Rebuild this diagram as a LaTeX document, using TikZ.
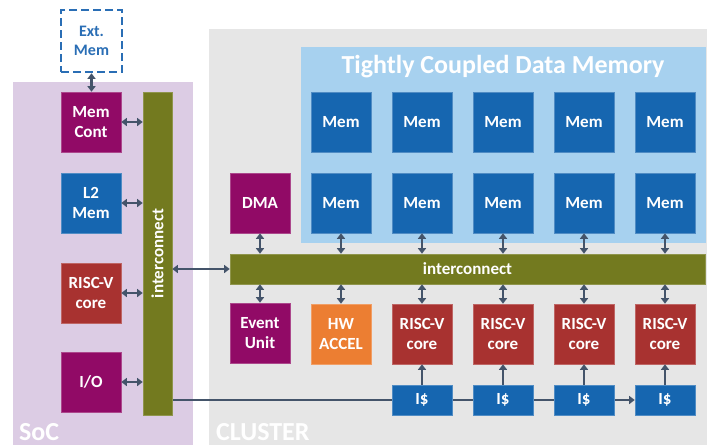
\documentclass[tikz,border=0pt]{standalone}
\usepackage{fontspec}
\setmainfont{Carlito}
\usetikzlibrary{arrows.meta}
\definecolor{socbg}{HTML}{DCCCE4}
\definecolor{clbg}{HTML}{E6E6E6}
\definecolor{tcdmbg}{HTML}{A7D1EF}
\definecolor{memblue}{HTML}{1666B0}
\definecolor{magen}{HTML}{910A66}
\definecolor{corered}{HTML}{A83230}
\definecolor{accel}{HTML}{EC7E32}
\definecolor{olive}{HTML}{737A1F}
\definecolor{wire}{HTML}{44546A}
\definecolor{extblue}{HTML}{2A6EB5}
\pgfdeclarelayer{panel}
\pgfdeclarelayer{wirelayer}
\pgfsetlayers{panel,wirelayer,main}
\tikzset{
  blk/.style={rectangle, inner sep=0pt, minimum width=60pt, minimum height=60pt,
    text=white, align=center, font=\fontsize{17}{20}\selectfont\bfseries,
    fill=#1, draw=#1!75!white, line width=0.6pt},
  cache/.style={blk=memblue, minimum height=30pt},
  bus/.style={rectangle, inner sep=0pt, fill=olive, draw=olive!80!white, line width=0.6pt,
    text=white, font=\fontsize{17}{20}\selectfont\bfseries},
  dbl/.style={wire, line width=2.3pt, {Triangle[width=8pt,length=5.5pt]}-{Triangle[width=8pt,length=5.5pt]}},
  one/.style={wire, line width=2.3pt, -{Triangle[width=8pt,length=5.5pt]}},
  paneltitle/.style={text=white, font=\fontsize{26}{28}\selectfont\bfseries, inner sep=0pt, anchor=base west}
}
\begin{document}
\begin{tikzpicture}[x=1pt, y=-1pt]
\useasboundingbox (0,0) rectangle (707,445);

% background panels
\begin{pgfonlayer}{panel}
  \fill[socbg] (13,82) rectangle (193,445);
  \fill[clbg] (209,29) rectangle (707,445);
  \fill[tcdmbg] (301,47) rectangle (706,243);
\end{pgfonlayer}
\node[paneltitle] (soclbl) at (19,440) {SoC};
\node[paneltitle] (cllbl) at (216,440) {CLUSTER};
\node[text=white, font=\fontsize{26}{28}\selectfont\bfseries, inner sep=0pt] (tcdmlbl) at (503,67) {Tightly Coupled Data Memory};

% external memory
\node[rectangle, minimum width=61pt, minimum height=62pt, inner sep=0pt, draw=extblue,
  line width=2.6pt, dash pattern=on 8pt off 4pt, fill=white, text=extblue, align=center,
  font=\fontsize{16}{19}\selectfont\bfseries] (ext) at (91.5,41) {Ext.\\Mem};

% SoC blocks
\node[blk=magen] (mc) at (91,122) {Mem\\Cont};
\node[blk=memblue] (l2) at (91,203) {L2\\Mem};
\node[blk=corered] (soccore) at (91,293) {RISC-V\\core};
\node[blk=magen] (io) at (91,382) {I/O};
\node[bus, minimum width=29pt, minimum height=323pt] (socic) at (157.5,253.5) {};
\node[text=white, font=\fontsize{17}{20}\selectfont\bfseries, rotate=90, inner sep=0pt] (socictxt) at (socic.center) {interconnect};

% cluster interconnect
\node[bus, minimum width=475pt, minimum height=30pt] (clic) at (467.5,269) {interconnect};

% TCDM banks
\foreach \i/\x in {1/341,2/422,3/503,4/584,5/665} {
  \node[blk=memblue] (ma\i) at (\x,122) {Mem};
  \node[blk=memblue] (mb\i) at (\x,203) {Mem};
  \draw[dbl] (mb\i.south) -- (mb\i.south |- clic.north);
}
\node[blk=magen] (dma) at (260,203) {DMA};
\draw[dbl] (dma.south) -- (dma.south |- clic.north);

% lower cluster row
\node[blk=magen] (ev) at (260,333) {Event\\Unit};
\node[blk=accel] (hw) at (341,334) {HW\\ACCEL};
\draw[dbl] (ev.north) -- (ev.north |- clic.south);
\draw[dbl] (hw.north) -- (hw.north |- clic.south);
\foreach \i/\x in {1/422,2/503,3/584,4/665} {
  \node[blk=corered] (core\i) at (\x,334) {RISC-V\\core};
  \node[cache] (ic\i) at (\x,400) {I\$};
  \draw[dbl] (core\i.north) -- (core\i.north |- clic.south);
  \draw[one] (ic\i.north) -- (core\i.south);
}

% SoC links
\draw[dbl] (ext.south) -- (ext.south |- mc.north);
\draw[dbl] (mc.east) -- (mc.east -| socic.west);
\draw[dbl] (l2.east) -- (l2.east -| socic.west);
\draw[dbl] (soccore.east) -- (soccore.east -| socic.west);
\draw[dbl] (io.east) -- (io.east -| socic.west);
\draw[dbl] (socic.east |- clic.west) -- (clic.west);

% instruction fetch chain
\begin{pgfonlayer}{wirelayer}
  \draw[one] (socic.east |- ic4.west) -- (ic4.west);
\end{pgfonlayer}
\end{tikzpicture}
\end{document}
